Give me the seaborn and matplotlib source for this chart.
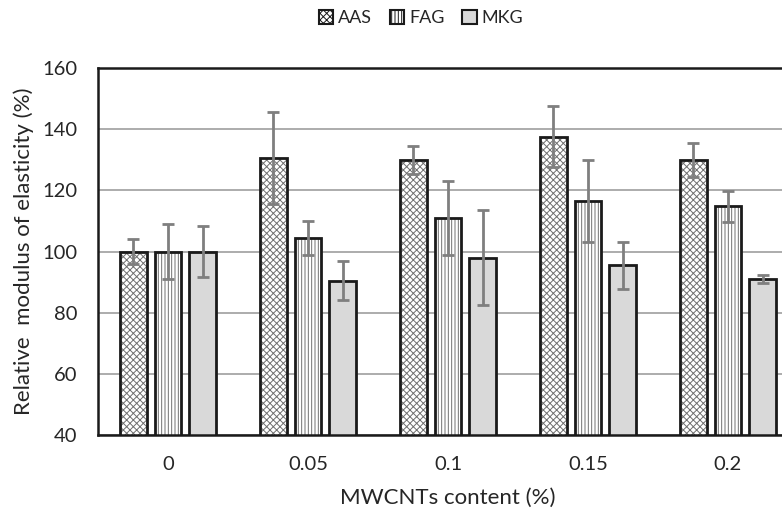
import matplotlib
matplotlib.use("Agg")
import matplotlib.pyplot as plt
import seaborn as sns
import pandas as pd
import numpy as np
from matplotlib.patches import Patch

categories = ["0", "0.05", "0.1", "0.15", "0.2"]
series = ["AAS", "FAG", "MKG"]
aas = [100, 130.5, 130, 137.5, 130]
fag = [100, 104.5, 111, 116.5, 114.8]
mkg = [100, 90.5, 98, 95.5, 91]
aas_err = [4, 15, 4.5, 10, 5.5]
fag_err = [9, 5.5, 12, 13.5, 5]
mkg_err = [8.3, 6.5, 15.5, 7.7, 1.2]

values = {"AAS": aas, "FAG": fag, "MKG": mkg}
errors = {"AAS": aas_err, "FAG": fag_err, "MKG": mkg_err}
rows = []
for s in series:
    for c, v, e in zip(categories, values[s], errors[s]):
        rows.append({"content": c, "series": s, "value": v, "err": e})
df = pd.DataFrame(rows)

sns.set_theme(style="white")
plt.rcParams["font.family"] = ["Lato", "DejaVu Sans"]
plt.rcParams["hatch.linewidth"] = 0.7

fills = {"AAS": "white", "FAG": "white", "MKG": "#d9d9d9"}
hatches = {"AAS": "xxxxx", "FAG": "|||||", "MKG": ""}
hatch_col = "#707070"

fig = plt.figure(figsize=(7.82, 5.16), dpi=100)
ax = fig.add_axes([98 / 782, 1 - 435 / 516, 700 / 782, (435 - 68) / 516])

# layer 1: fills with hatch
sns.barplot(data=df, x="content", y="value", hue="series", order=categories,
            hue_order=series, width=0.74, gap=0.22, errorbar=None,
            palette=fills, ax=ax, legend=False, linewidth=0, saturation=1)
for cont, s in zip(ax.containers, series):
    for p in cont:
        p.set_hatch(hatches[s])
        p.set_edgecolor(hatch_col)
        p.set_linewidth(0)
n_fill = len(ax.containers)
# layer 2: black outlines
sns.barplot(data=df, x="content", y="value", hue="series", order=categories,
            hue_order=series, width=0.74, gap=0.22, errorbar=None,
            fill=False, color="black", ax=ax, legend=False, linewidth=2)
for cont in ax.containers[n_fill:]:
    for p in cont:
        p.set_edgecolor("#1a1a1a")
        p.set_facecolor("none")
        p.set_linewidth(2)

# error bars
for cont, s in zip(ax.containers[:n_fill], series):
    xs = [p.get_x() + p.get_width() / 2 for p in cont]
    ax.errorbar(xs, values[s], yerr=errors[s], fmt="none", ecolor="#7f7f7f",
                elinewidth=2, capsize=4.5, capthick=2, zorder=5)

ax.set_ylim(40, 160)
ax.set_xlim(-0.5, 4.5)
ax.set_yticks([40, 60, 80, 100, 120, 140, 160])
ax.yaxis.grid(True, color="#a6a6a6", linewidth=1.3)
ax.set_axisbelow(True)
for side in ["left", "bottom", "top"]:
    ax.spines[side].set_color("#1a1a1a")
    ax.spines[side].set_linewidth(1.8)
ax.spines["right"].set_visible(False)

ax.tick_params(axis="y", length=0, labelsize=14.5, pad=15, colors="#262626")
ax.tick_params(axis="x", which="major", length=0, labelsize=14.5, pad=15, colors="#262626")
ax.set_xticks(np.arange(-0.5, 5.0, 1.0), minor=True)
ax.tick_params(axis="x", which="minor", direction="in", length=5, width=1.8, color="#1a1a1a")

ax.set_xlabel("MWCNTs content (%)", fontsize=16, labelpad=11, color="#262626")
ax.set_ylabel("Relative  modulus of elasticity (%)", fontsize=16, labelpad=6, color="#262626")

handles = []
for s in series:
    handles.append(Patch(facecolor=fills[s], hatch=hatches[s], edgecolor="#1a1a1a", linewidth=1.5))
fig.legend(handles, series, loc="center", bbox_to_anchor=(421 / 782, 1 - 18 / 516), ncol=3,
           frameon=False, fontsize=13, handlelength=0.8, handleheight=0.8,
           handletextpad=0.25, columnspacing=1.0, labelcolor="#262626")

fig.savefig("out.png", dpi=100)
